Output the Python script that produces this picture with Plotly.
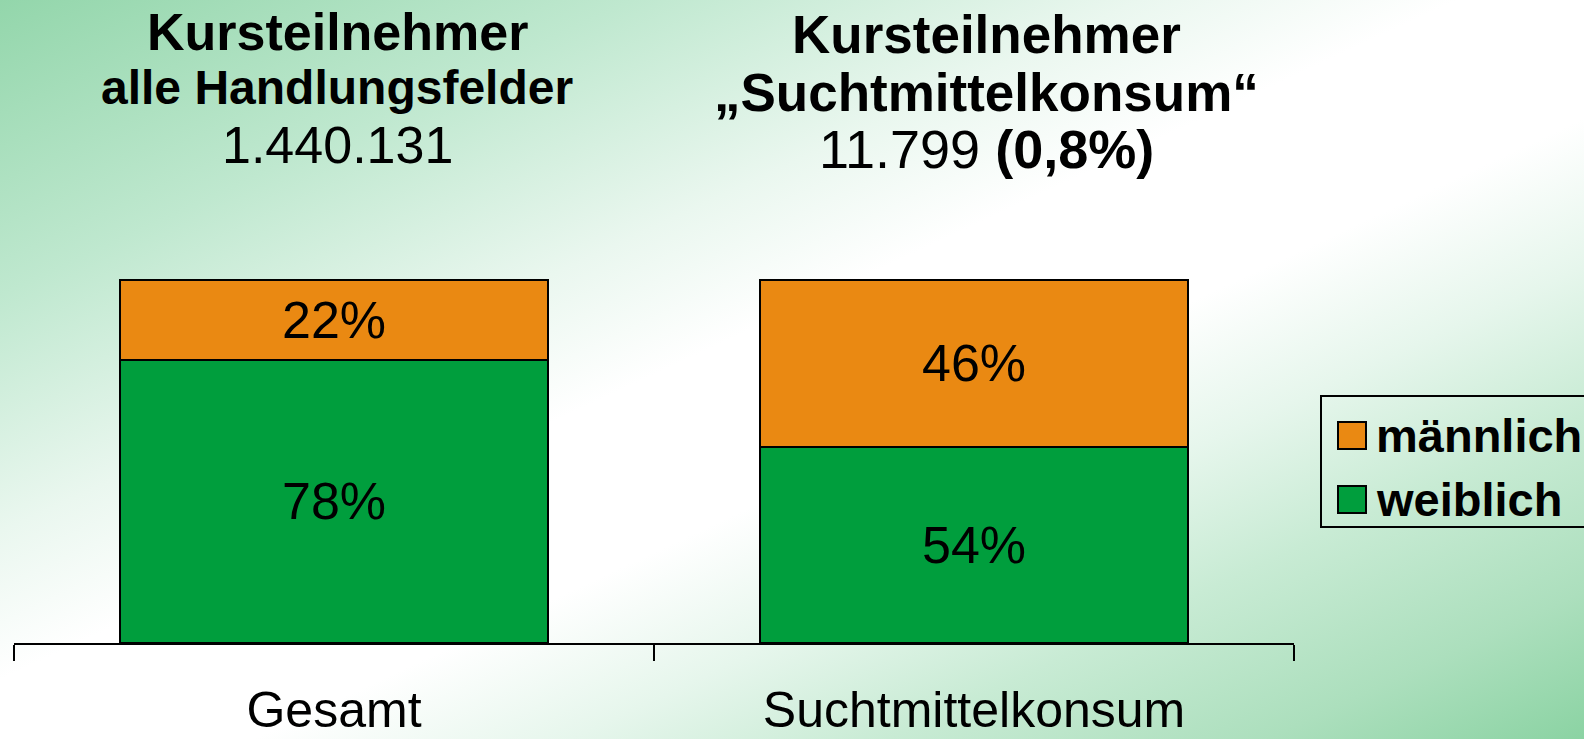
import base64
import plotly.graph_objects as go

# Daten
kategorien = ["Gesamt", "Suchtmittelkonsum"]
weiblich = [78, 54]
maennlich = [22, 46]

titel_links = ["<b>Kursteilnehmer</b>", "<b>alle Handlungsfelder</b>", "1.440.131"]
titel_rechts = ["<b>Kursteilnehmer</b>", "<b>„Suchtmittelkonsum“</b>", "11.799 <b>(0,8%)</b>"]

GRUEN = "#009E3D"
ORANGE = "#EA8912"
FONT = "Liberation Sans, Arial, sans-serif"

W, H = 1584, 739
ML, MR, MT, MB = 14, 290, 278, 96
PW, PH = W - ML - MR, H - MT - MB


def px(x):
    return (x - ML) / PW


def py(y):
    return (H - MB - y) / PH


# Hintergrund: diagonaler Verlauf grün - weiß - grün
svg = """<svg xmlns='http://www.w3.org/2000/svg' width='1584' height='739' preserveAspectRatio='none'>
<defs><linearGradient id='g' x1='0' y1='0' x2='1' y2='1'>
<stop offset='0' stop-color='#93d6ab'/>
<stop offset='0.2' stop-color='#bfe8cf'/>
<stop offset='0.36' stop-color='#eaf7ef'/>
<stop offset='0.46' stop-color='#ffffff'/>
<stop offset='0.58' stop-color='#ffffff'/>
<stop offset='0.68' stop-color='#e6f6ec'/>
<stop offset='0.78' stop-color='#c8ebd4'/>
<stop offset='0.9' stop-color='#acdfbd'/>
<stop offset='1' stop-color='#8bd3a3'/>
</linearGradient></defs>
<rect width='1584' height='739' fill='url(#g)'/></svg>"""
bg_src = "data:image/svg+xml;base64," + base64.b64encode(svg.encode("utf-8")).decode()

fig = go.Figure()
fig.add_trace(go.Bar(
    x=kategorien, y=weiblich, name="weiblich", marker=dict(color=GRUEN, line=dict(color="black", width=2)),
    text=[f"{v}%" for v in weiblich], textposition="inside", insidetextanchor="middle",
    textfont=dict(family=FONT, size=52, color="black"), showlegend=False,
))
fig.add_trace(go.Bar(
    x=kategorien, y=maennlich, name="männlich", marker=dict(color=ORANGE, line=dict(color="black", width=2)),
    text=[f"{v}%" for v in maennlich], textposition="inside", insidetextanchor="middle",
    textfont=dict(family=FONT, size=52, color="black"), showlegend=False,
))

annos = []
for zeilen, xc, ys, sizes in [(titel_links, 337, [32, 87, 145], [52, 48, 52]),
                              (titel_rechts, 986, [34, 92, 149], [53, 53, 54])]:
    for t, yc, s in zip(zeilen, ys, sizes):
        annos.append(dict(text=t, x=px(xc), y=py(yc), xref="paper", yref="paper", showarrow=False,
                          xanchor="center", yanchor="middle", font=dict(family=FONT, size=s, color="black")))

# Legende von Hand
shapes = [dict(type="rect", xref="paper", yref="paper", x0=px(1321), x1=px(1620), y0=py(396), y1=py(527),
               line=dict(color="black", width=2), fillcolor="rgba(0,0,0,0)")]
for name, farbe, y0 in [("männlich", ORANGE, 422), ("weiblich", GRUEN, 486)]:
    shapes.append(dict(type="rect", xref="paper", yref="paper", x0=px(1338), x1=px(1366), y0=py(y0), y1=py(y0 + 27),
                       line=dict(color="black", width=2), fillcolor=farbe))
    annos.append(dict(text=f"<b>{name}</b>", x=px(1374), y=py(y0 + 13), xref="paper", yref="paper",
                      showarrow=False, xanchor="left", yanchor="middle",
                      font=dict(family=FONT, size=47, color="black")))

fig.update_layout(
    width=W, height=H, autosize=False, margin=dict(l=ML, r=MR, t=MT, b=MB),
    barmode="stack", bargap=0.332,
    paper_bgcolor="white", plot_bgcolor="rgba(0,0,0,0)",
    xaxis=dict(showline=True, linecolor="black", linewidth=2, ticks="outside", tickson="boundaries",
               ticklen=16, tickwidth=2, tickcolor="black", showgrid=False, ticklabelstandoff=22,
               automargin=False, tickfont=dict(family=FONT, size=50, color="black")),
    yaxis=dict(visible=False, range=[0, 100.55], automargin=False),
    annotations=annos, shapes=shapes,
    images=[dict(source=bg_src, xref="paper", yref="paper", x=px(0), y=py(0), sizex=W / PW, sizey=H / PH,
                 xanchor="left", yanchor="top", sizing="stretch", layer="below")],
)

fig.write_html("out.html", config={"responsive": False, "displayModeBar": False},
               post_script="document.body.style.margin='0'; document.body.style.overflow='hidden';")
